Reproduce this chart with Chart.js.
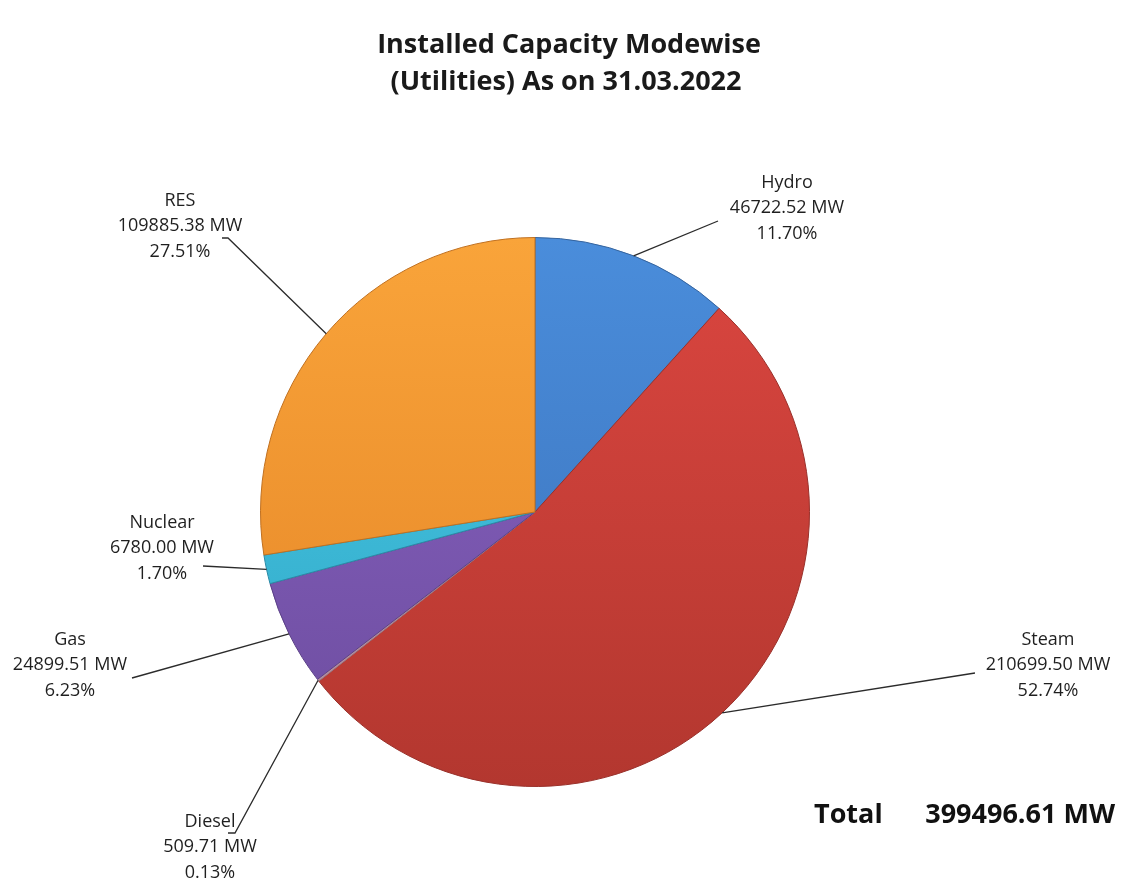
<!DOCTYPE html>
<html>
<head>
<meta charset="utf-8">
<script src="https://cdn.jsdelivr.net/npm/chart.js@4/dist/chart.umd.min.js"></script>
<style>
  html, body { margin: 0; padding: 0; background: #fff; }
  #wrap { width: 1129px; height: 882px; position: relative; }
</style>
</head>
<body>
<div id="wrap"><canvas id="pieChart"></canvas></div>
<script>
// chart data
const modes = ['Hydro', 'Steam', 'Diesel', 'Gas', 'Nuclear', 'RES'];
const capacityMW = [46722.52, 210699.50, 509.71, 24899.51, 6780.00, 109885.38];
const totalMW = 399496.61;
const titleLines = ['Installed Capacity Modewise', '(Utilities) As on 31.03.2022'];

// slice colours: [top, bottom] of the gradient
const sliceColors = [
    ['#4a8ddb', '#3a70b8'],
    ['#db4640', '#b3372f'],
    ['#c9a3b8', '#b08898'],
    ['#8a64c4', '#6c4c9e'],
    ['#4ccbe6', '#2ea6c6'],
    ['#f9a43a', '#e48426']
];
const borderColors = ['#35649e', '#99302a', '#9a7a88', '#5b4087', '#2a8aa6', '#c07020'];

// leader line bends and label centres, in px from the pie centre
const labelLayout = [
    { line: [[183, -291]], text: [252, -304] },
    { line: [[440, 161]], text: [513, 153] },
    { line: [[-300, 321], [-307, 321]], text: [-325, 335] },
    { line: [[-403, 166]], text: [-465, 153] },
    { line: [[-332, 54]], text: [-373, 36] },
    { line: [[-307, -274], [-313, -274]], text: [-355, -286] }
];

const labelFont = '18px "Open Sans", sans-serif';

const pieLabels = {
    id: 'pieLabels',
    afterDatasetsDraw(chart) {
        const ctx = chart.ctx;
        const arcs = chart.getDatasetMeta(0).data;
        ctx.save();
        arcs.forEach((arc, i) => {
            const { x, y, startAngle, endAngle, outerRadius } = arc.getProps(['x', 'y', 'startAngle', 'endAngle', 'outerRadius'], true);
            const mid = (startAngle + endAngle) / 2;
            const lay = labelLayout[i];

            // leader line
            ctx.beginPath();
            ctx.strokeStyle = '#2b2b2b';
            ctx.lineWidth = 1.3;
            ctx.moveTo(x + Math.cos(mid) * outerRadius, y + Math.sin(mid) * outerRadius);
            lay.line.forEach(p => ctx.lineTo(x + p[0], y + p[1]));
            ctx.stroke();

            // three line label
            const pct = (capacityMW[i] / totalMW * 100).toFixed(2) + '%';
            const rows = [modes[i], capacityMW[i].toFixed(2) + ' MW', pct];
            ctx.font = labelFont;
            ctx.fillStyle = '#1f1f1f';
            ctx.textAlign = 'center';
            ctx.textBaseline = 'middle';
            rows.forEach((t, k) => ctx.fillText(t, x + lay.text[0], y + lay.text[1] + (k - 1) * 25.5));
        });

        // title
        ctx.font = 'bold 27px "Open Sans", sans-serif';
        ctx.fillStyle = '#1a1a1a';
        ctx.textAlign = 'center';
        ctx.fillText(titleLines[0], 569, 45);
        ctx.fillText(titleLines[1], 566, 82);

        // total line
        ctx.font = 'bold 27px "Open Sans", sans-serif';
        ctx.fillStyle = '#111';
        ctx.textAlign = 'left';
        ctx.fillText('Total', 814, 815);
        ctx.textAlign = 'right';
        ctx.fillText(totalMW.toFixed(2) + ' MW', 1115, 815);
        ctx.restore();
    }
};

function sliceFill(context) {
    const chart = context.chart;
    const area = chart.chartArea;
    const c = sliceColors[context.dataIndex];
    if (!area) return c[0];
    const g = chart.ctx.createLinearGradient(0, area.top, 0, area.bottom);
    g.addColorStop(0, c[0]);
    g.addColorStop(1, c[1]);
    return g;
}

new Chart(document.getElementById('pieChart'), {
    type: 'pie',
    data: {
        labels: modes,
        datasets: [{
            data: capacityMW,
            backgroundColor: sliceFill,
            borderColor: borderColors,
            borderWidth: 1
        }]
    },
    options: {
        responsive: true,
        maintainAspectRatio: false,
        animation: false,
        layout: { padding: { left: 260, right: 319, top: 237, bottom: 95 } },
        plugins: {
            legend: { display: false },
            tooltip: { enabled: false },
            title: { display: false }
        }
    },
    plugins: [pieLabels]
});
</script>
</body>
</html>
